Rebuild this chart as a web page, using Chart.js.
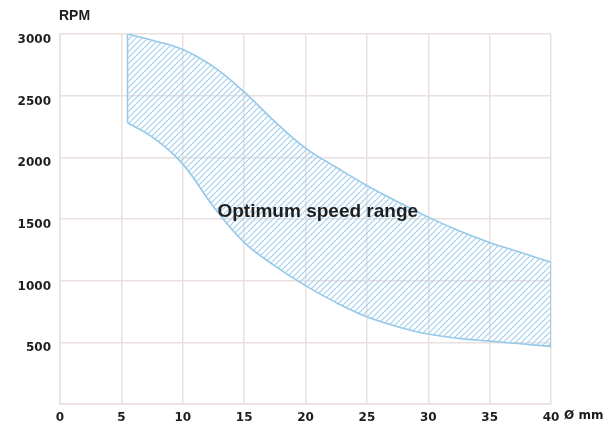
<!DOCTYPE html>
<html>
<head>
<meta charset="utf-8">
<script src="https://cdn.jsdelivr.net/npm/chart.js@4"></script>
<style>
body{margin:0;background:#fff;}
#wrap{width:613px;height:423px;}
</style>
</head>
<body>
<div id="wrap"><canvas id="grafico" width="613" height="423"></canvas></div>
<script>
// diameter (mm) and speed band limits (RPM)
const diametros = [5.5, 7.5, 10, 12.5, 15, 17.5, 20, 22.5, 25, 27.5, 30, 32.5, 35, 37.5, 40];
const rpmMax = [3000, 2950, 2875, 2735, 2530, 2290, 2075, 1920, 1772, 1640, 1515, 1405, 1310, 1230, 1150];
const rpmMin = [2280, 2165, 1945, 1600, 1310, 1120, 960, 822, 707, 627, 567, 532, 510, 488, 467];
const xTicks = [0, 5, 10, 15, 20, 25, 30, 35, 40];
const yTicks = [500, 1000, 1500, 2000, 2500, 3000];
const rotulo = 'Optimum speed range';
const eixoY = 'RPM';
const unidadeX = 'Ø mm';

const azul = 'rgb(150,201,233)';
const grade = 'rgb(234,224,221)';
const texto = '#1e1e1e';

function hachura(){
const c = document.createElement('canvas');
c.width = 6; c.height = 6;
const g = c.getContext('2d');
g.strokeStyle = 'rgb(165,209,237)';
g.lineWidth = 1.2;
g.beginPath();
g.moveTo(-1,7); g.lineTo(7,-1);
g.moveTo(-4,4); g.lineTo(4,-4);
g.moveTo(2,10); g.lineTo(10,2);
g.stroke();
return document.getElementById('grafico').getContext('2d').createPattern(c,'repeat');
}

const pontos = (ys) => diametros.map((x,i) => ({x:x, y:ys[i]}));
const n = diametros.length - 1;

const textos = {
id:'textos',
afterDraw(chart){
const {ctx, scales:{x, y}, chartArea} = chart;
ctx.save();
ctx.fillStyle = texto;
ctx.font = 'bold 19px "Liberation Sans", Arial, sans-serif';
ctx.textAlign = 'center';
ctx.textBaseline = 'middle';
ctx.fillText(rotulo, x.getPixelForValue(21), y.getPixelForValue(1560));
ctx.font = 'bold 14px "Liberation Sans", Arial, sans-serif';
ctx.textAlign = 'left';
ctx.fillText(eixoY, chartArea.left - 1, 16);
ctx.font = 'bold 12px "DejaVu Sans", sans-serif';
ctx.fillText(unidadeX, chartArea.right + 13, 416);
ctx.restore();
}
};

const fonteTick = {family:'"DejaVu Sans", sans-serif', size:12, weight:'bold'};

new Chart(document.getElementById('grafico'),{
type:'line',
data:{
datasets:[
{
data:pontos(rpmMin),
borderColor:azul,
borderWidth:1.6,
pointRadius:0,
fill:false,
tension:0.4
},
{
data:pontos(rpmMax),
borderColor:azul,
borderWidth:1.6,
pointRadius:0,
fill:{target:0, above:hachura(), below:hachura()},
tension:0.4
},
{
data:[{x:diametros[0], y:rpmMin[0]},{x:diametros[0], y:rpmMax[0]}],
borderColor:azul,
borderWidth:1.6,
pointRadius:0,
fill:false
},
{
data:[{x:diametros[n], y:rpmMin[n]},{x:diametros[n], y:rpmMax[n]}],
borderColor:azul,
borderWidth:1.6,
pointRadius:0,
fill:false
}
]
},
options:{
responsive:false,
animation:false,
layout:{padding:{left:0, right:62, top:34, bottom:0}},
plugins:{legend:{display:false}, tooltip:{enabled:false}},
scales:{
x:{
type:'linear',
min:0, max:40,
afterBuildTicks(s){ s.ticks = xTicks.map(v => ({value:v})); },
afterFit(s){ s.height = 19; },
grid:{color:grade, lineWidth:1.5, drawTicks:false},
border:{color:grade, width:1.5},
ticks:{font:fonteTick, color:texto, padding:7, maxRotation:0}
},
y:{
min:0, max:3000,
afterBuildTicks(s){ s.ticks = [0].concat(yTicks).map(v => ({value:v})); },
afterFit(s){ s.width = 60; },
grid:{color:grade, lineWidth:1.5, drawTicks:false},
border:{color:grade, width:1.5},
ticks:{
font:fonteTick, color:texto, padding:9, labelOffset:6,
callback:(v) => v === 0 ? '' : v
}
}
}
},
plugins:[textos]
});
</script>
</body>
</html>
